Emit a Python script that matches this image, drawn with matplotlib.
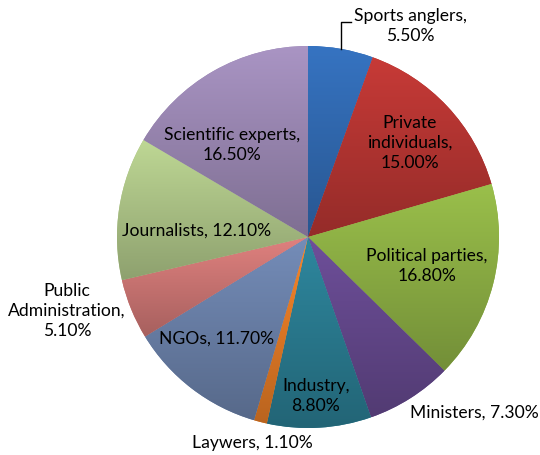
import numpy as np
import matplotlib
matplotlib.use("Agg")
import matplotlib.pyplot as plt
from matplotlib.colors import LinearSegmentedColormap, to_rgb

# slice data, clockwise from 12 o'clock
labels = ["Sports anglers", "Private\nindividuals", "Political parties",
          "Ministers", "Industry", "Laywers", "NGOs", "Public\nAdministration",
          "Journalists", "Scientific experts"]
shares = [5.5, 15.0, 16.8, 7.3, 8.8, 1.1, 11.7, 5.1, 12.1, 16.5]
colors = ["#3169b0", "#b53532", "#8cae44", "#64488c", "#2a7b90",
          "#e27a26", "#6a80a8", "#cb7573", "#adc487", "#9a87b2"]

# label layout (centre in pixels from top-left, value on new line or not)
label_xy = [(410, 26), (410, 143), (427, 266), (474, 413), (316, 396),
            (252, 443), (217, 339), (67, 311), (197, 231), (232, 145)]
label_break = [True, True, True, False, True, False, False, True, False, True]

plt.rcParams['font.family'] = ['Lato', 'DejaVu Sans']

W, H = 540, 455
fig = plt.figure(figsize=(W / 100, H / 100), dpi=100)
ax = fig.add_axes([0, 0, 1, 1])

cx, cy, R = 308, H - 237, 191

wedges, _ = ax.pie(shares, colors=colors, startangle=90, counterclock=False,
                   center=(cx, cy), radius=R, frame=True,
                   wedgeprops=dict(linewidth=0))

# Excel-style vertical shading in each slice
for w, c in zip(wedges, colors):
    bb = w.get_path().get_extents(w.get_patch_transform())
    base = np.array(to_rgb(c))
    light = np.clip(base * 1.1, 0, 1)
    dark = base * 0.82
    cmap = LinearSegmentedColormap.from_list("g", [dark, light])
    grad = np.linspace(0, 1, 256).reshape(-1, 1)
    im = ax.imshow(grad, cmap=cmap, aspect='auto', origin='lower',
                   extent=(bb.x0, bb.x1, bb.y0, bb.y1), zorder=w.get_zorder())
    im.set_clip_path(w)

ax.set_xlim(0, W)
ax.set_ylim(0, H)
ax.set_aspect('equal')
ax.axis('off')

# labels
for lab, s, (px, py), br in zip(labels, shares, label_xy, label_break):
    sep = ",\n" if br else ", "
    ax.text(px, H - py, f"{lab}{sep}{s:.2f}%", ha='center', va='center',
            fontsize=12.6, linespacing=1.3, color='black', zorder=5)

# leader line for the small top slice
w0 = wedges[0]
a0 = np.deg2rad((w0.theta1 + w0.theta2) / 2)
ex, ey = cx + R * np.cos(a0), cy + R * np.sin(a0)
ax.plot([ex, ex, ex + 10], [ey, H - 22, H - 22], color='black', lw=1, zorder=5)

fig.savefig("out.png", dpi=100)
